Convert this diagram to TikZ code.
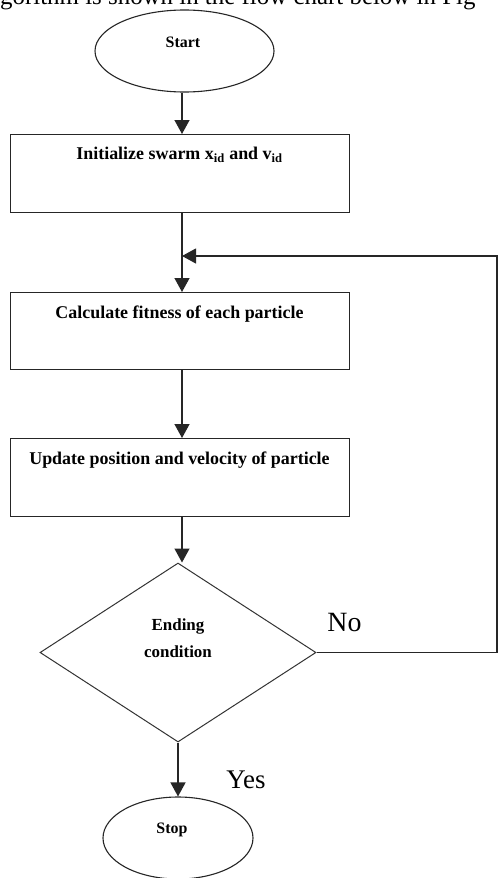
\documentclass[tikz,border=0pt]{standalone}
\usepackage{fontspec}
\setmainfont{Liberation Serif}
\usetikzlibrary{shapes.geometric,arrows.meta}
\begin{document}
\begin{tikzpicture}[x=1bp,y=-1bp,
  flowline/.style={line width=1.3bp, draw=black!85},
  arr/.style={flowline,-{Triangle[width=15bp,length=14bp]}},
  stepbox/.style={draw=black!85, line width=1.4bp, rectangle, minimum width=339bp, minimum height=78bp, inner sep=0, anchor=north west},
  termnode/.style={draw=black!85, line width=1.1bp, ellipse, inner sep=0},
  boxtext/.style={font=\fontsize{18}{20}\selectfont\bfseries, inner sep=0},
  termtext/.style={font=\fontsize{16}{18}\selectfont\bfseries, inner sep=0},
  bigtext/.style={font=\fontsize{28}{30}\selectfont, inner sep=0}
]
\useasboundingbox (0,0) rectangle (499,878);
\fill[white] (0,0) rectangle (499,878);
\begin{scope}
  \clip (0,0) rectangle (499,878);
  \node[anchor=base west, inner sep=0, font=\fontsize{25}{30}\selectfont] (intro) at (-18,4) {algorithm is shown in the flow chart below in Fig};
\end{scope}

\coordinate (spine) at (182,0);
\coordinate (fb) at (497,256);

% Start
\node[termnode, minimum width=179bp, minimum height=82bp] (start) at (184.5,51) {};
\node[termtext] (starttext) at (183,42) {Start};

% boxes
\node[stepbox] (init) at (10,134) {};
\node[boxtext] (inittext) at (179.5,155) {Initialize swarm x\textsubscript{id} and v\textsubscript{id}};

\node[stepbox, minimum height=77bp] (fit) at (10,292) {};
\node[boxtext] (fittext) at (179.5,314) {Calculate fitness of each particle};

\node[stepbox] (upd) at (10,438) {};
\node[boxtext] (updtext) at (179.5,460) {Update position and velocity of particle};

% decision
\node[draw=black!80, line width=1bp, diamond, minimum width=276bp, minimum height=179bp, inner sep=0] (cond) at (178,652.5) {};
\node[font=\fontsize{17}{27}\selectfont\bfseries, align=center, inner sep=0] (condtext) at (178,638) {Ending\\condition};

% Stop
\node[termnode, minimum width=150bp, minimum height=82bp] (stop) at (178,838) {};
\node[termtext] (stoptext) at (172,830) {Stop};

% labels
\node[bigtext] (no) at (344.5,622) {No};
\node[bigtext, font=\fontsize{27}{30}\selectfont] (yes) at (246,780) {Yes};

% connectors
\draw[arr] (start.south -| spine) -- (init.north -| spine);
\draw[arr] (init.south -| spine) -- (fit.north -| spine);
\draw[arr] (fit.south -| spine) -- (upd.north -| spine);
\draw[arr] (upd.south -| spine) -- (cond.north -| spine);
\draw[arr] (cond.south) -- (cond.south |- stop.north);
\draw[arr, line width=1.1bp] (cond.east) -| (fb) -- (fb -| spine);
\end{tikzpicture}
\end{document}
